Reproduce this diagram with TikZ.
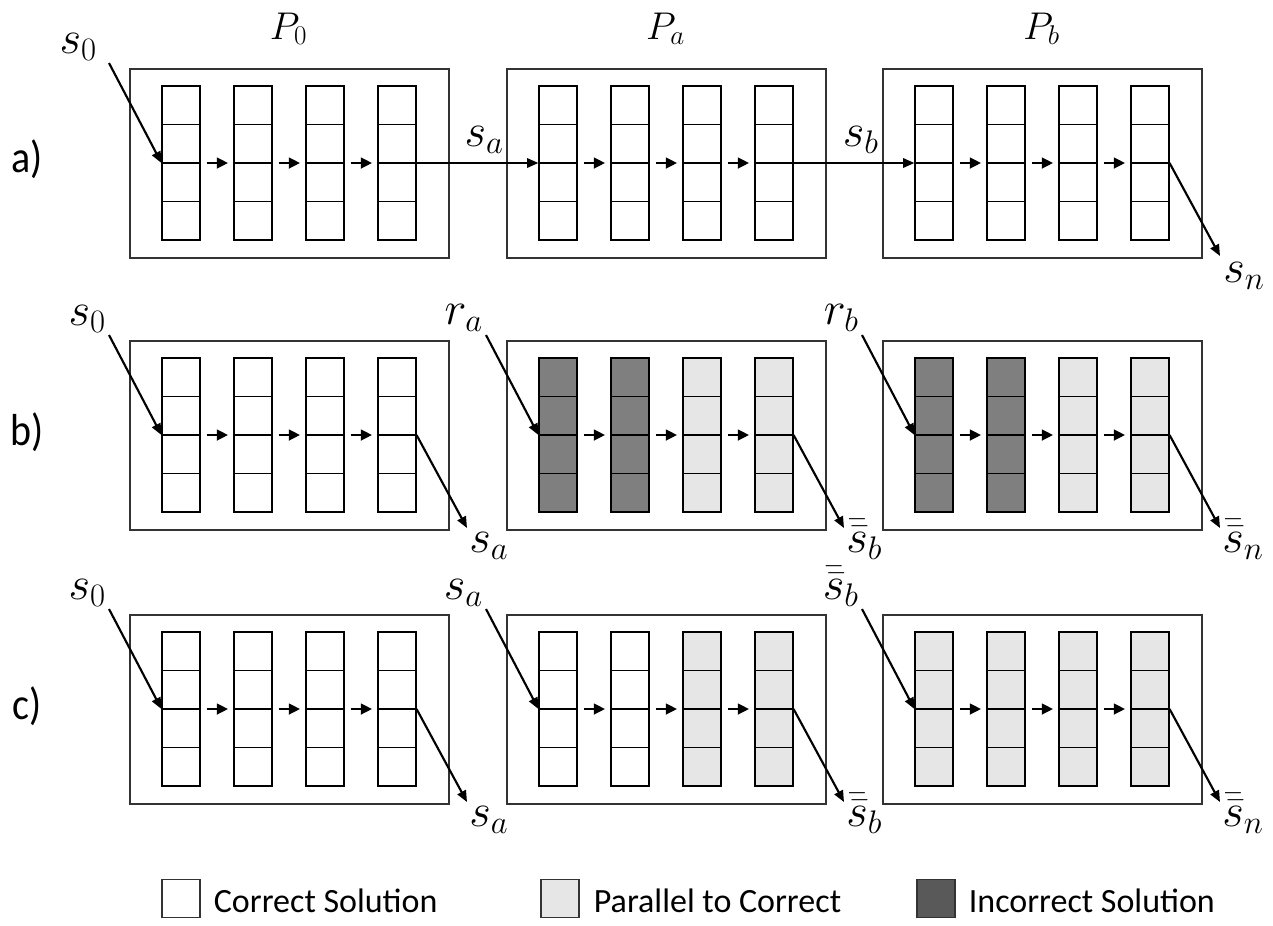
\RequirePackage{fix-cm}
\documentclass[tikz,border=0pt]{standalone}
\usepackage{fontspec}
\newfontfamily\labelfont{Carlito}
\usetikzlibrary{arrows.meta,calc}

\definecolor{parallelgray}{HTML}{E6E6E6}
\definecolor{wronggray}{HTML}{7F7F7F}
\definecolor{legenddark}{HTML}{595959}
\definecolor{framegray}{HTML}{333333}

\tikzset{
  panel/.style={draw=framegray, line width=1.2pt, minimum width=239.25pt,
    minimum height=141.75pt, inner sep=0pt, anchor=north west},
  stack/.style={draw=black, line width=0.85pt, fill=#1, minimum width=28.5pt,
    minimum height=115.5pt, inner sep=0pt,
    path picture={\foreach \k in {1,2,3}{
      \draw[line width=1.1pt]
        ($(path picture bounding box.north west)!\k/4!(path picture bounding box.south west)$) --
        ($(path picture bounding box.north east)!\k/4!(path picture bounding box.south east)$);}}},
  flow/.style={line width=1.6pt, -{Triangle[length=8.5pt,width=7pt]}},
  hop/.style={line width=2pt, -{Triangle[length=8.5pt,width=8pt]},
    shorten <=4.5pt, shorten >=4pt},
  mathlbl/.style={font=\fontsize{35}{40}\selectfont, inner sep=0pt},
  headlbl/.style={font=\fontsize{29}{34}\selectfont, inner sep=0pt, anchor=base},
  rowlbl/.style={font=\labelfont\fontsize{30}{34}\selectfont, inner sep=0pt, yscale=1.12},
  keybox/.style={draw=framegray, line width=0.9pt, minimum size=28.5pt, inner sep=0pt},
  keytext/.style={font=\labelfont\fontsize{25.5}{30}\selectfont, inner sep=0pt, anchor=base west},
}

% double-barred state symbol
\newcommand{\dbar}[1]{\bar{\bar{#1}}}

% one processing panel: frame, four solution stacks and the hops between them
% #1 name, #2 left, #3 top, #4-#7 fill of each stack
\newcommand{\solpanel}[7]{%
  \node[panel] (#1) at (#2,#3) {};
  \node[stack=#4] (#1-1) at ($(#1.north west)+(52,95)$) {};
  \node[stack=#5] (#1-2) at ($(#1.north west)+(124,95)$) {};
  \node[stack=#6] (#1-3) at ($(#1.north west)+(196,95)$) {};
  \node[stack=#7] (#1-4) at ($(#1.north west)+(268,95)$) {};
  \draw[hop] (#1-1.east) -- (#1-2.west);
  \draw[hop] (#1-2.east) -- (#1-3.west);
  \draw[hop] (#1-3.east) -- (#1-4.west);
  \coordinate (#1-in) at ($(#1.north west)+(-20,-5)$);
  \coordinate (#1-out) at ($(#1.north west)+(338,188)$);
}

\begin{document}
\begin{tikzpicture}[x=0.75pt, y=-0.75pt]
\useasboundingbox (0,0) rectangle (1273,925);

% column headings
\node[headlbl] (h0) at (288.5,39) {$P_0$};
\node[headlbl] (ha) at (665.5,39) {$P_a$};
\node[headlbl] (hb) at (1041.5,39) {$P_b$};

% ---- row a: one sequential pass
\solpanel{A1}{129}{68}{white}{white}{white}{white}
\solpanel{A2}{506}{68}{white}{white}{white}{white}
\solpanel{A3}{882}{68}{white}{white}{white}{white}
\node[rowlbl] (ra) at (27,159) {a)};
\node[mathlbl, anchor=base east] (A1-l) at ($(A1-in)+(-12,-10)$) {$s_0$};
\draw[flow] (A1-in) -- (A1-1.west);
\draw[flow] (A1-4.east) -- (A2-1.west)
  node[mathlbl, midway, anchor=base, xshift=5pt, yshift=12.75pt] {$s_a$};
\draw[flow] (A2-4.east) -- (A3-1.west)
  node[mathlbl, midway, anchor=base, xshift=5pt, yshift=12.75pt] {$s_b$};
\draw[flow] (A3-4.east) -- (A3-out);
\node[mathlbl, anchor=base west] (A3-r) at ($(A3-out)+(3,26)$) {$s_n$};

% ---- row b
\solpanel{B1}{129}{340}{white}{white}{white}{white}
\solpanel{B2}{506}{340}{wronggray}{wronggray}{parallelgray}{parallelgray}
\solpanel{B3}{882}{340}{wronggray}{wronggray}{parallelgray}{parallelgray}
\node[rowlbl] (rb) at (27,432) {b)};
\node[mathlbl, anchor=base east] (B1-l) at ($(B1-in)+(-3,-10)$) {$s_0$};
\node[mathlbl, anchor=base east] (B2-l) at ($(B2-in)+(-3,-11)$) {$r_a$};
\node[mathlbl, anchor=base east] (B3-l) at ($(B3-in)+(-3,-11)$) {$r_b$};
\foreach \p in {B1,B2,B3}{
  \draw[flow] (\p-in) -- (\p-1.west);
  \draw[flow] (\p-4.east) -- (\p-out);
}
\node[mathlbl, anchor=base west] (B1-r) at ($(B1-out)+(2,24)$) {$s_a$};
\node[mathlbl, anchor=base west] (B2-r) at ($(B2-out)+(2,24)$) {$\dbar{s}_b$};
\node[mathlbl, anchor=base west] (B3-r) at ($(B3-out)+(2,24)$) {$\dbar{s}_n$};

% ---- row c
\solpanel{C1}{129}{614}{white}{white}{white}{white}
\solpanel{C2}{506}{614}{white}{white}{parallelgray}{parallelgray}
\solpanel{C3}{882}{614}{parallelgray}{parallelgray}{parallelgray}{parallelgray}
\node[rowlbl] (rc) at (27,706) {c)};
\node[mathlbl, anchor=base east] (C1-l) at ($(C1-in)+(-3,-10)$) {$s_0$};
\node[mathlbl, anchor=base east] (C2-l) at ($(C2-in)+(-3,-10)$) {$s_a$};
\node[mathlbl, anchor=base east] (C3-l) at ($(C3-in)+(-3,-10)$) {$\dbar{s}_b$};
\foreach \p in {C1,C2,C3}{
  \draw[flow] (\p-in) -- (\p-1.west);
  \draw[flow] (\p-4.east) -- (\p-out);
}
\node[mathlbl, anchor=base west] (C1-r) at ($(C1-out)+(2,24)$) {$s_a$};
\node[mathlbl, anchor=base west] (C2-r) at ($(C2-out)+(2,24)$) {$\dbar{s}_b$};
\node[mathlbl, anchor=base west] (C3-r) at ($(C3-out)+(2,24)$) {$\dbar{s}_n$};

% ---- legend
\node[keybox, fill=white] (L1) at (181,898.5) {};
\node[keytext] (L1t) at ($(L1.south east)+(13,-6)$) {Correct Solution};
\node[keybox, fill=parallelgray] (L2) at (560,898.5) {};
\node[keytext] (L2t) at ($(L2.south east)+(14,-6)$) {Parallel to Correct};
\node[keybox, fill=legenddark] (L3) at (936,898.5) {};
\node[keytext] (L3t) at ($(L3.south east)+(13,-6)$) {Incorrect Solution};
\end{tikzpicture}
\end{document}
